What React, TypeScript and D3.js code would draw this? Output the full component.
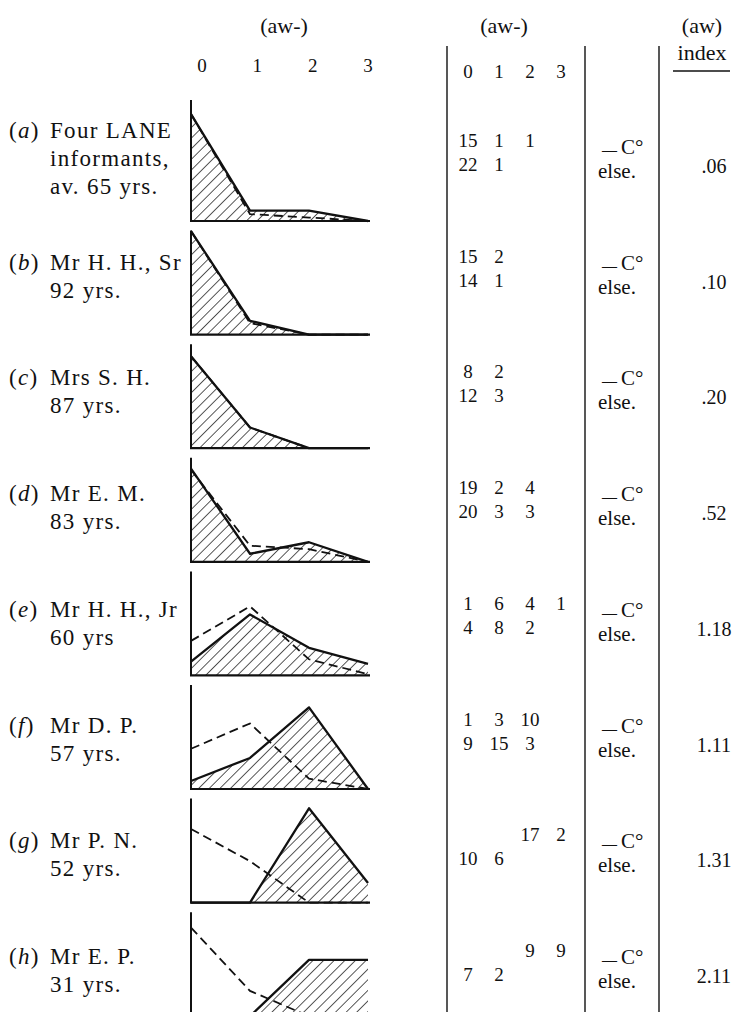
import React from 'react';
import * as d3 from 'd3';

const W = 736;
const H = 1012;

const rowIds = ['a', 'b', 'c', 'd', 'e', 'f', 'g', 'h'];
const rowNames = [
  ['Four LANE', 'informants,', 'av. 65 yrs.'],
  ['Mr H. H., Sr', '92 yrs.'],
  ['Mrs S. H.', '87 yrs.'],
  ['Mr E. M.', '83 yrs.'],
  ['Mr H. H., Jr', '60 yrs'],
  ['Mr D. P.', '57 yrs.'],
  ['Mr P. N.', '52 yrs.'],
  ['Mr E. P.', '31 yrs.'],
];
const levels = [0, 1, 2, 3];
const levelLabels = ['0', '1', '2', '3'];

// curve heights (per cent of the informant's tokens)
const solidC = [
  [93, 9, 9, 0], [90, 12, 0, 0], [80, 18, 0, 0], [81, 7, 17, 0],
  [12, 53, 24, 10], [7, 27, 71, 0], [0, 0, 82, 17], [0, 0, 49, 49],
];
const dashedElse = [
  [93, 6, 3, 0], [90, 10, 0, 0], [80, 18, 0, 0], [80, 14, 11, 0],
  [30, 60, 14, 1], [35, 57, 9, 0], [64, 36, 0, 0], [77, 22, 0, 0],
];

// token counts per (aw-) level, null = blank cell
const countsC = [
  [15, 1, 1, null], [15, 2, null, null], [8, 2, null, null], [19, 2, 4, null],
  [1, 6, 4, 1], [1, 3, 10, null], [null, null, 17, 2], [null, null, 9, 9],
];
const countsElse = [
  [22, 1, null, null], [14, 1, null, null], [12, 3, null, null], [20, 3, 3, null],
  [4, 8, 2, null], [9, 15, 3, null], [10, 6, null, null], [7, 2, null, null],
];
const indexValues = ['.06', '.10', '.20', '.52', '1.18', '1.11', '1.31', '2.11'];

const serif = "'Liberation Serif', 'Times New Roman', serif";

const x = d3.scaleLinear().domain([0, 3]).range([191, 368]);
const tickX = d3.scaleLinear().domain([0, 3]).range([202, 368]);
const colX = d3.scalePoint<number>().domain(levels).range([468, 561]);

const baseOf = (i: number) => 221 + i * 113.6;
const topOf = (i: number) => (i === 0 ? 100 : baseOf(i) - 104);
const tableRow = (i: number) => 178 + i * 115.7;

const Panel = ({ i }: { i: number }) => {
  const base = baseOf(i);
  const y = d3.scaleLinear().domain([0, 100]).range([base, base - 115]);
  const area = d3.area<number>().x((_, k) => x(k)).y0(base).y1(d => y(d));
  const line = d3.line<number>().x((_, k) => x(k)).y(d => y(d));
  return (
    <g>
      <path d={area(solidC[i]) || ''} fill="url(#hatch)" stroke="none" />
      <path d={line(solidC[i]) || ''} fill="none" stroke="#111" strokeWidth={2.3} strokeLinejoin="round" />
      <path d={line(dashedElse[i]) || ''} fill="none" stroke="#111" strokeWidth={1.8} strokeDasharray="9 5" />
      <line x1={x(0)} x2={x(0)} y1={topOf(i)} y2={base} stroke="#111" strokeWidth={2} />
      <line x1={x(0) - 1} x2={x(3) + 2} y1={base} y2={base} stroke="#111" strokeWidth={2.2} />
    </g>
  );
};

const Label = ({ i }: { i: number }) => {
  const lines = rowNames[i];
  const y0 = i === 0 ? 138 : tableRow(i) - 24;
  return (
    <g fontFamily={serif} fontSize={23} fill="#111" letterSpacing={1.3}>
      <text x={9} y={y0}>
        (<tspan fontStyle="italic">{rowIds[i]}</tspan>)
      </text>
      {lines.map((s, k) => (
        <text key={k} x={50} y={y0 + k * 28}>{s}</text>
      ))}
    </g>
  );
};

const TableRow = ({ i }: { i: number }) => {
  const ty = tableRow(i);
  return (
    <g fontFamily={serif} fill="#111">
      {countsC[i].map((v, k) => v === null ? null : (
        <text key={'c' + k} x={colX(k)} y={ty - 31} fontSize={19} textAnchor="middle">{v}</text>
      ))}
      {countsElse[i].map((v, k) => v === null ? null : (
        <text key={'e' + k} x={colX(k)} y={ty - 7} fontSize={19} textAnchor="middle">{v}</text>
      ))}
      <text x={602} y={ty - 24} fontSize={21}>
        <tspan fontSize={15} fontWeight="bold" dy={1}>—</tspan>
        <tspan dx={4} dy={-1}>C°</tspan>
      </text>
      <text x={598} y={ty} fontSize={21}>else.</text>
      <text x={714} y={ty - 5} fontSize={20} textAnchor="middle">{indexValues[i]}</text>
    </g>
  );
};

export default function App() {
  return (
    <svg width={W} height={H} viewBox={`0 0 ${W} ${H}`}
      style={{ position: 'absolute', left: 0, top: 0, background: '#fff' }}>
      <defs>
        <pattern id="hatch" width={7.5} height={7.5} patternUnits="userSpaceOnUse" patternTransform="rotate(45)">
          <line x1={0} y1={0} x2={0} y2={7.5} stroke="#111" strokeWidth={1.4} />
        </pattern>
      </defs>
      <rect width={W} height={H} fill="#fff" />

      <g fontFamily={serif} fontSize={22} fill="#111" textAnchor="middle">
        <text x={284} y={33}>(aw-)</text>
        <text x={504} y={33}>(aw-)</text>
        <text x={702} y={33}>(aw)</text>
        <text x={702} y={60}>index</text>
      </g>
      <line x1={673} x2={730} y1={71} y2={71} stroke="#111" strokeWidth={1.5} />

      <g fontFamily={serif} fontSize={19} fill="#111" textAnchor="middle">
        {levels.map(l => <text key={'t' + l} x={tickX(l)} y={72}>{levelLabels[l]}</text>)}
        {levels.map(l => <text key={'u' + l} x={colX(l)} y={78}>{levelLabels[l]}</text>)}
      </g>

      {[447, 585, 659].map(vx => (
        <line key={vx} x1={vx} x2={vx} y1={46} y2={H} stroke="#111" strokeWidth={1.4} />
      ))}

      {rowIds.map((_, i) => <Panel key={'p' + i} i={i} />)}
      {rowIds.map((_, i) => <Label key={'l' + i} i={i} />)}
      {rowIds.map((_, i) => <TableRow key={'r' + i} i={i} />)}
    </svg>
  );
}
